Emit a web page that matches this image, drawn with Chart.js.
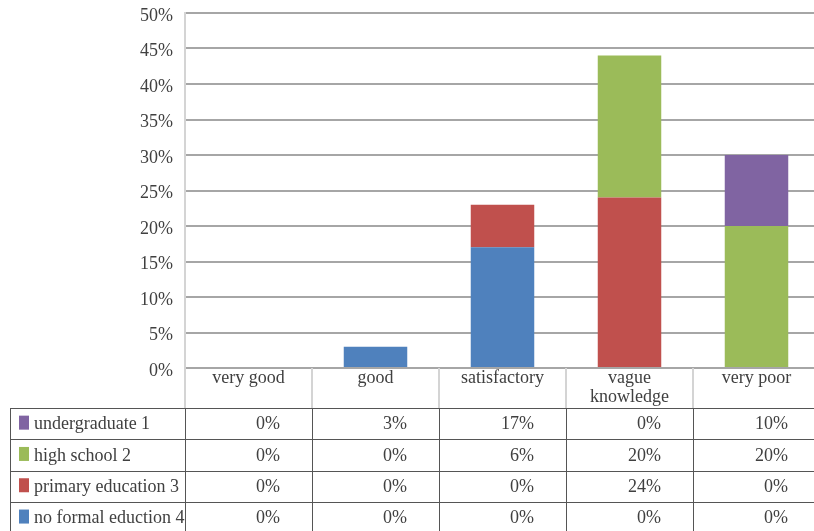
<!DOCTYPE html>
<html>
<head>
<meta charset="utf-8">
<script src="https://cdn.jsdelivr.net/npm/chart.js@4"></script>
<style>
  html, body { margin: 0; padding: 0; background: #fff; overflow: hidden; }
  #wrap { position: relative; width: 822px; height: 531px; }
</style>
</head>
<body>
<div id="wrap"><canvas id="chart"></canvas></div>
<script>
// categories along the x axis (multi-line where the original wraps)
const categories = ['very good', 'good', 'satisfactory', ['vague', 'knowledge'], 'very poor']

// stacked bar segments as drawn, bottom to top
const blueBars = [0, 3, 17, 0, 0]
const redBars = [0, 0, 6, 24, 0]
const greenBars = [0, 0, 0, 20, 20]
const purpleBars = [0, 0, 0, 0, 10]

// data table under the chart
const tableNames = ['undergraduate 1', 'high school 2', 'primary education 3', 'no formal eduction 4']
const tableColors = ['#8064A2', '#9BBB59', '#C0504D', '#4F81BD']
const tableValues = [
  [0, 3, 17, 0, 10],
  [0, 0, 6, 20, 20],
  [0, 0, 0, 24, 0],
  [0, 0, 0, 0, 0],
]

const yMax = 50
const yStep = 5

const FONT = '"Liberation Serif", "Times New Roman", serif'
const TEXT = '#404040'

// draws the header row + data table below the plot, using the x scale for columns
const tablePlugin = {
  id: 'dataTable',
  afterDraw(chart) {
    let ctx = chart.ctx
    let x = chart.scales.x
    let area = chart.chartArea
    let colW = x.width / categories.length
    let top = area.bottom
    let headH = 40
    let rowH = 31.3
    let tableTop = top + headH
    let left = 10

    ctx.save()
    // header row separators (light, same as axis)
    ctx.strokeStyle = '#d4d4d4'
    ctx.lineWidth = 2
    for (let i = 0; i <= categories.length; i++) {
      let px = Math.round(x.left + i * colW)
      ctx.beginPath()
      ctx.moveTo(px, top)
      ctx.lineTo(px, tableTop)
      ctx.stroke()
    }

    // header labels
    ctx.fillStyle = TEXT
    ctx.font = '18px ' + FONT
    ctx.textAlign = 'center'
    ctx.textBaseline = 'top'
    categories.forEach((c, i) => {
      let cx = x.getPixelForValue(i)
      let lines = Array.isArray(c) ? c : [c]
      lines.forEach((l, j) => ctx.fillText(l, cx, top + 1 + j * 19))
    })

    // table grid
    ctx.strokeStyle = '#555'
    ctx.lineWidth = 1
    for (let r = 0; r <= tableNames.length; r++) {
      let py = Math.round(tableTop + r * rowH) + 0.5
      ctx.beginPath()
      ctx.moveTo(left, py)
      ctx.lineTo(chart.width, py)
      ctx.stroke()
    }
    let vlines = [left]
    for (let i = 0; i < categories.length; i++) vlines.push(Math.round(x.left + i * colW))
    vlines.forEach((px) => {
      ctx.beginPath()
      ctx.moveTo(px + 0.5, tableTop)
      ctx.lineTo(px + 0.5, chart.height)
      ctx.stroke()
    })

    // rows
    ctx.textBaseline = 'middle'
    tableNames.forEach((name, r) => {
      let cy = tableTop + r * rowH + rowH / 2
      ctx.fillStyle = tableColors[r]
      ctx.fillRect(19, cy - 8, 10, 14)
      ctx.fillStyle = TEXT
      ctx.textAlign = 'left'
      ctx.fillText(name, 34, cy + 1)
      ctx.textAlign = 'right'
      tableValues[r].forEach((v, i) => {
        ctx.fillText(v + '%', x.left + (i + 1) * colW - 32, cy + 1)
      })
    })
    ctx.restore()
  },
}

const ctx = document.getElementById('chart').getContext('2d')
new Chart(ctx, {
  type: 'bar',
  data: {
    labels: categories,
    datasets: [
      { label: 'blue', data: blueBars, backgroundColor: '#4F81BD' },
      { label: 'red', data: redBars, backgroundColor: '#C0504D' },
      { label: 'green', data: greenBars, backgroundColor: '#9BBB59' },
      { label: 'purple', data: purpleBars, backgroundColor: '#8064A2' },
    ],
  },
  options: {
    responsive: true,
    maintainAspectRatio: false,
    animation: false,
    categoryPercentage: 1,
    barPercentage: 0.5,
    layout: {
      padding: { left: 0, right: 2, top: 13, bottom: 163 },
    },
    plugins: {
      legend: { display: false },
      tooltip: { enabled: false },
    },
    scales: {
      x: {
        stacked: true,
        display: false,
      },
      y: {
        stacked: true,
        min: 0,
        max: yMax,
        afterFit(scale) {
          scale.width = 185
          scale.paddingTop = 0
          scale.paddingBottom = 0
        },
        ticks: {
          stepSize: yStep,
          padding: 12,
          labelOffset: 3,
          color: TEXT,
          font: { family: FONT, size: 18 },
          callback: (v) => v + '%',
        },
        grid: {
          color: '#a6a6a6',
          lineWidth: 2,
          drawTicks: false,
        },
        border: {
          display: true,
          color: '#d4d4d4',
          width: 2,
        },
      },
    },
  },
  plugins: [tablePlugin],
})
</script>
</body>
</html>
